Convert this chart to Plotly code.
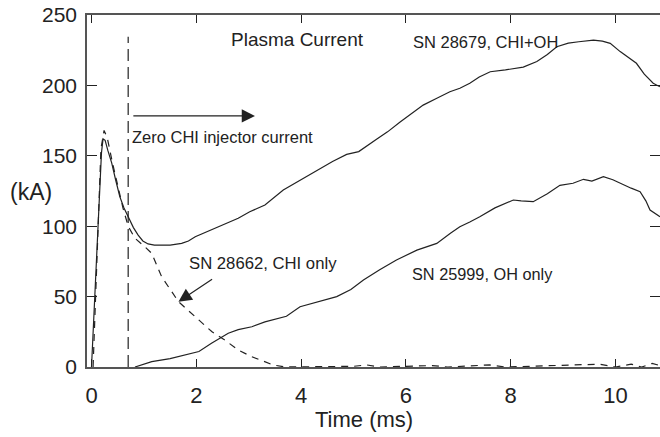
import plotly.graph_objects as go

# SN 28679, CHI+OH (solid)
t_chi_oh = [0.0, 0.05, 0.1, 0.15, 0.19, 0.22, 0.26, 0.31, 0.385, 0.46, 0.54, 0.62, 0.70, 0.80, 0.89,
            0.98, 1.08, 1.2, 1.34, 1.5, 1.72, 1.85, 1.98, 2.2, 2.42, 2.6, 2.80, 3.02, 3.31, 3.66,
            4.0, 4.30, 4.6, 4.87, 5.1, 5.44, 5.65, 5.89, 6.1, 6.33, 6.6, 6.84, 7.03, 7.22, 7.4,
            7.61, 7.9, 8.24, 8.5, 8.7, 8.88, 9.1, 9.3, 9.58, 9.75, 9.90, 10.09, 10.25, 10.40,
            10.55, 10.72, 10.85]
i_chi_oh = [0, 38, 81, 122, 152, 162, 161, 154, 145, 133, 121, 113, 106.7, 99, 93.7,
            89.5, 87.4, 86.5, 86.6, 86.5, 87.8, 89.5, 92.5, 96, 99.6, 102, 105.6, 110.3, 115, 125.7,
            133, 140, 146, 151, 153, 161.7, 167, 174, 180, 186, 191, 195.5, 198, 201.5, 206,
            209.7, 211, 213, 217, 222, 227.5, 230, 231, 232.2, 231.5, 229.9, 224, 220, 215.7,
            208, 201.5, 199]

# SN 25999, OH only (solid)
t_oh = [0.83, 1.0, 1.15, 1.5, 1.78, 2.05, 2.29, 2.61, 2.8, 3.06, 3.31, 3.72, 3.98, 4.3, 4.68,
        4.95, 5.19, 5.5, 5.82, 6.21, 6.59, 6.85, 7.03, 7.22, 7.41, 7.7, 8.05, 8.2, 8.43, 8.7,
        8.94, 9.19, 9.39, 9.55, 9.77, 9.95, 10.09, 10.3, 10.47, 10.58, 10.66, 10.85]
i_oh = [0, 2, 3.8, 6, 8.5, 11, 16.8, 24, 26.5, 28.6, 32, 36, 42.8, 46, 50,
        55, 61.8, 69, 76, 83, 87.8, 95, 99.6, 103, 106.7, 113, 118.6, 118, 117.4, 123,
        129, 130.5, 133.3, 132, 135.2, 133, 130.5, 127, 124.5, 118, 111.5, 106.7]

# SN 28662, CHI only (dashed)
t_chi = [0.03, 0.1, 0.18, 0.24, 0.3, 0.4, 0.51, 0.6, 0.70, 0.83, 1.0, 1.15, 1.34, 1.5, 1.66,
         1.85, 2.04, 2.3, 2.55, 2.8, 3.06, 3.22, 3.47, 3.7, 4.5, 5.0, 5.25, 5.5, 6.5, 6.8,
         7.6, 7.9, 9.7, 10.0, 10.3, 10.5, 10.7, 10.85]
i_chi = [0, 80, 155, 168, 163, 145, 128, 113, 100, 91.4, 86, 80.7, 64, 55, 46.4,
         40, 33.4, 25, 19, 12, 7.3, 5, 1.4, 0, 0, 0.5, 1.5, 0, 1, 0,
         1.5, 0, 2, 0, 2, 0, 2.5, 1]

x_ticks = [0, 2, 4, 6, 8, 10]
y_ticks = [0, 50, 100, 150, 200, 250]

INK = "#222222"
FONT = "Liberation Sans, Arial, sans-serif"

# plot area in pixels
L, R, T, B = 87, 0, 15, 70
W, H = 660, 437
PW, PH = W - L - R, H - T - B


def px_to_paper(x, y):
    return (x - L) / PW, (H - B - y) / PH


fig = go.Figure()
fig.add_trace(go.Scatter(x=t_chi_oh, y=i_chi_oh, mode="lines",
                         line=dict(color=INK, width=1.2)))
fig.add_trace(go.Scatter(x=t_oh, y=i_oh, mode="lines",
                         line=dict(color=INK, width=1.2)))
fig.add_trace(go.Scatter(x=t_chi, y=i_chi, mode="lines",
                         line=dict(color=INK, width=1.2, dash="7px,6px")))

# start of zero injector current
fig.add_shape(type="line", x0=0.70, x1=0.70, y0=0, y1=234.6,
              line=dict(color=INK, width=1.2, dash="12px,6px"))

texts = [
    ("Plasma Current", 3.93, 232.6, 19),
    ("SN 28679, CHI+OH", 7.51, 230.5, 16.5),
    ("Zero CHI injector current", 2.50, 163.4, 16.5),
    ("SN 28662, CHI only", 3.27, 73.2, 16.7),
    ("SN 25999, OH only", 7.47, 66, 16.3),
]
for txt, x, y, size in texts:
    fig.add_annotation(x=x, y=y, text=txt, showarrow=False, xanchor="center", yanchor="middle",
                       font=dict(family=FONT, size=size, color=INK))

fig.add_annotation(x=3.12, y=178.3, ax=0.77, ay=178.3, axref="x", ayref="y", text="",
                   showarrow=True, arrowhead=2, arrowsize=2.2, arrowwidth=1.2, arrowcolor=INK)
fig.add_annotation(x=1.66, y=46.4, ax=2.33, ay=63, axref="x", ayref="y", text="",
                   showarrow=True, arrowhead=2, arrowsize=2.2, arrowwidth=1.2, arrowcolor=INK)

kx, ky = px_to_paper(31, 192)
fig.add_annotation(x=kx, y=ky, xref="paper", yref="paper", text="(kA)", showarrow=False,
                   xanchor="center", yanchor="middle",
                   font=dict(family=FONT, size=23, color=INK))
tx, ty = px_to_paper(364, 419)
fig.add_annotation(x=tx, y=ty, xref="paper", yref="paper", text="Time (ms)", showarrow=False,
                   xanchor="center", yanchor="middle",
                   font=dict(family=FONT, size=22, color=INK))

fig.update_layout(
    width=W, height=H,
    margin=dict(l=L, r=R, t=T, b=B, autoexpand=False),
    plot_bgcolor="white", paper_bgcolor="white",
    showlegend=False,
)

fig.update_xaxes(
    range=[-0.086, 10.85], tickvals=x_ticks, ticks="inside", ticklen=8, tickwidth=1,
    tickcolor=INK, mirror="ticks", showline=True, linecolor="#555555", linewidth=1.5,
    showgrid=False, zeroline=False, ticklabelstandoff=8, automargin=False,
    tickfont=dict(family=FONT, size=22, color=INK),
)
fig.update_yaxes(
    range=[0, 250], tickvals=y_ticks, ticks="inside", ticklen=10, tickwidth=1,
    tickcolor=INK, mirror="ticks", showline=True, linecolor="#555555", linewidth=1.5,
    showgrid=False, zeroline=False, ticklabelstandoff=4, automargin=False,
    tickfont=dict(family=FONT, size=21, color=INK),
)

# the page body has a default 8px margin; drop it so the figure sits at the window corner
fig.write_html("out.html", config={"displayModeBar": False},
               post_script="document.body.style.margin='0';")
